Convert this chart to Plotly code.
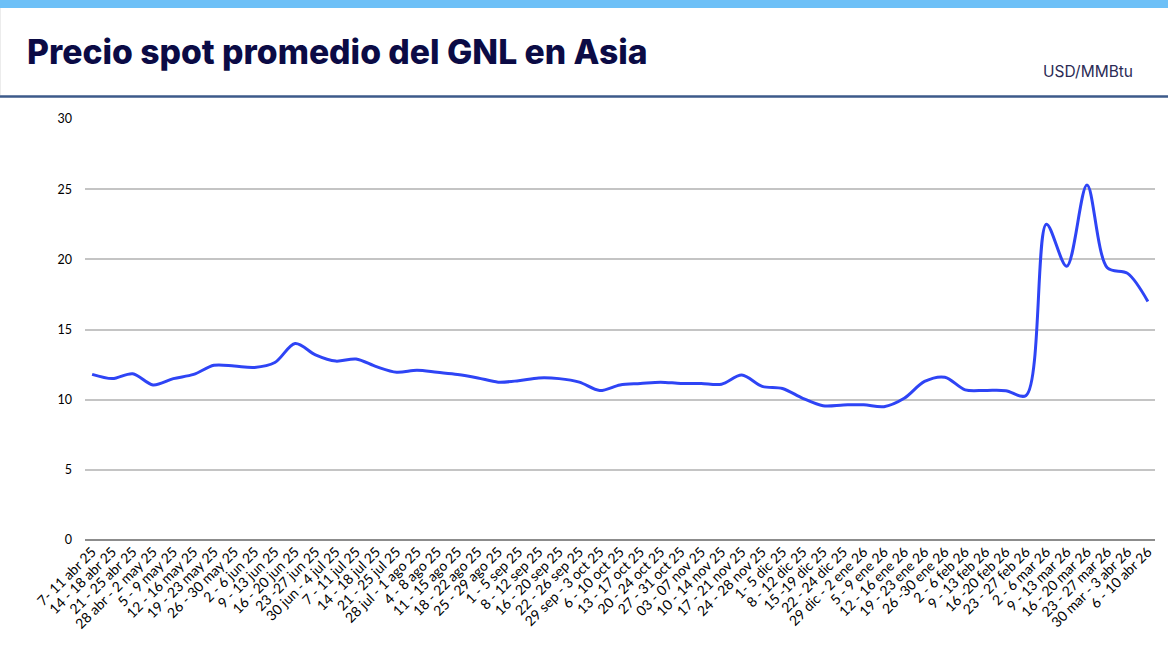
import plotly.graph_objects as go

W, H = 1168, 652
ML, MR, MT, MB = 85, 13, 119, 112

semanas = [
    "7- 11 abr 25", "14 - 18 abr 25", "21 - 25 abr 25", "28 abr - 2 may 25",
    "5 - 9 may 25", "12 - 16 may 25", "19 - 23 may 25", "26 - 30 may 25",
    "2 - 6 jun 25", "9 - 13 jun 25", "16 - 20 jun 25", "23 -27 jun 25",
    "30 jun - 4 jul 25", "7 - 11 jul 25", "14 - 18 jul 25", "21 - 25 jul 25",
    "28 jul - 1 ago 25", "4 - 8 ago 25", "11 - 15 ago 25", "18 - 22 ago 25",
    "25 - 29 ago 25", "1 - 5 sep 25", "8 - 12 sep 25", "16 - 20 sep 25",
    "22 - 26 sep 25", "29 sep - 3 oct 25", "6 - 10 oct 25", "13 - 17 oct 25",
    "20 - 24 oct 25", "27 - 31 oct 25", "03 - 07 nov 25", "10 - 14 nov 25",
    "17 - 21 nov 25", "24 - 28 nov 25", "1- 5 dic 25", "8 - 12 dic 25",
    "15 -19 dic 25", "22 - 24 dic 25", "29 dic - 2 ene 26", "5 - 9 ene 26",
    "12 - 16 ene 26", "19 - 23 ene 26", "26 -30 ene 26", "2 - 6 feb 26",
    "9 - 13 feb 26", "16 -20 feb 26", "23 - 27 feb 26", "2 - 6 mar 26",
    "9 - 13 mar 26", "16 - 20 mar 26", "23 - 27 mar 26", "30 mar - 3 abr 26",
    "6 - 10 abr 26",
]
precio = [
    11.8, 11.5, 11.85, 11.05, 11.5, 11.8, 12.45, 12.4,
    12.3, 12.65, 14.0, 13.2, 12.75, 12.9, 12.35, 11.95,
    12.1, 11.95, 11.8, 11.55, 11.25, 11.35, 11.55, 11.5,
    11.25, 10.65, 11.05, 11.15, 11.25, 11.15, 11.15, 11.1,
    11.75, 10.95, 10.8, 10.1, 9.57, 9.62, 9.64, 9.5,
    10.1, 11.3, 11.6, 10.7, 10.66, 10.64, 10.3, 22.5,
    19.5, 25.3, 19.4, 19.0, 17.0,
]
y_ticks = [0, 5, 10, 15, 20, 25, 30]


def px_y(y):
    # pixel row -> paper y
    return 1 + (MT - y) / (H - MT - MB)


def px_x(x):
    return (x - ML) / (W - ML - MR)


fig = go.Figure()
fig.add_trace(go.Scatter(
    x=semanas, y=precio, mode="lines",
    line=dict(color="#2e44f5", width=3, shape="spline", smoothing=0.9),
    hoverinfo="x+y",
))

shapes = [
    # top light-blue band
    dict(type="rect", xref="paper", yref="paper", x0=px_x(0), x1=px_x(W),
         y0=px_y(8), y1=px_y(0), fillcolor="#6dc0f7", line=dict(width=0), layer="below"),
    # faint left border of the header box
    dict(type="line", xref="paper", yref="paper", x0=px_x(0.5), x1=px_x(0.5),
         y0=px_y(95), y1=px_y(8), line=dict(color="#ececec", width=1)),
    # header rule
    dict(type="line", xref="paper", yref="paper", x0=px_x(0), x1=px_x(W),
         y0=px_y(96.5), y1=px_y(96.5), line=dict(color="#3c5a8a", width=2.5)),
]

fig.update_layout(
    width=W, height=H,
    margin=dict(l=ML, r=MR, t=MT, b=MB),
    paper_bgcolor="white", plot_bgcolor="white",
    showlegend=False,
    title=dict(text="Precio spot promedio del GNL en Asia",
               x=27 / W, xref="container", xanchor="left",
               y=1 - 52 / H, yref="container", yanchor="middle",
               font=dict(family="Inter", size=33.7, weight=800, color="#0b0b45")),
    shapes=shapes,
    annotations=[dict(text="USD/MMBtu", xref="paper", yref="paper",
                      x=px_x(1135), y=px_y(71), xanchor="right", yanchor="middle",
                      showarrow=False,
                      font=dict(family="Inter", size=15.5, color="#2b2b55"))],
    font=dict(family="Lato", color="black"),
)
fig.update_xaxes(
    type="category", range=[-0.35, len(semanas) - 0.65],
    tickangle=-45, tickfont=dict(family="Lato", size=14, color="black"),
    showgrid=False, showline=False, ticks="", zeroline=False,
)
fig.update_yaxes(
    range=[0, 30], tickvals=y_ticks, ticktext=[str(v) for v in y_ticks],
    showgrid=True, gridcolor="#c4c4c4", gridwidth=1.5,
    zeroline=True, zerolinecolor="#8c8c8c", zerolinewidth=2,
    tickfont=dict(family="Lato", size=12.5, color="black"), ticks="", ticklabelstandoff=12,
)

fig.write_html("out.html", config={"displayModeBar": False},
               post_script="document.body.style.margin='0';")
